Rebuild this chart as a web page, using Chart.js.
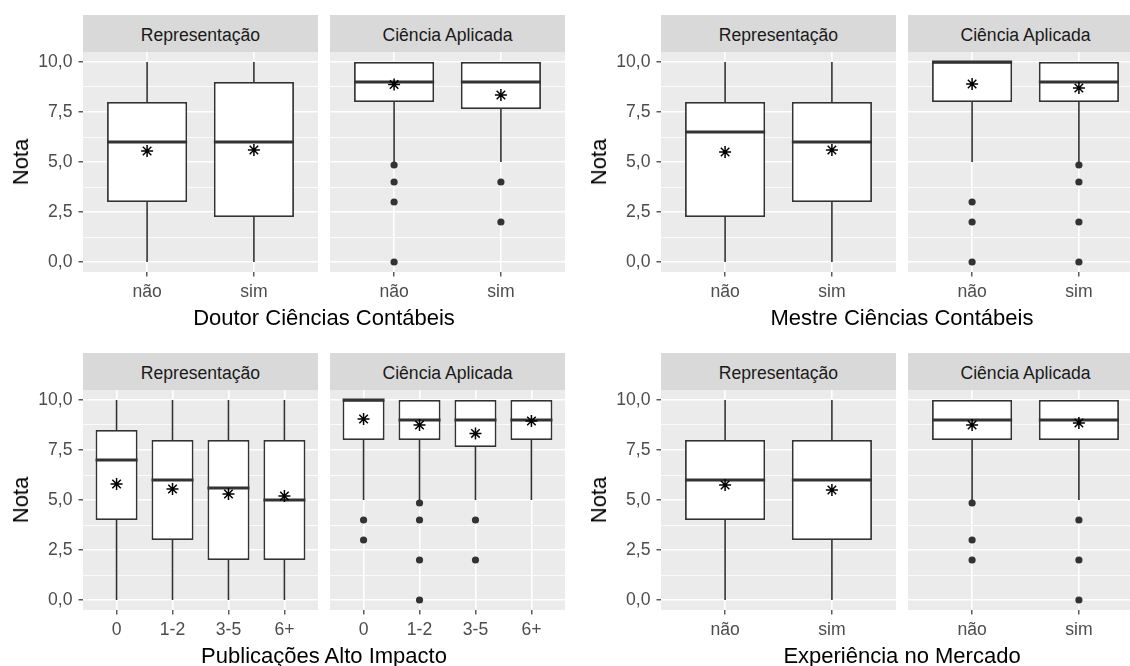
<!DOCTYPE html>
<html>
<head>
<meta charset="utf-8">
<script src="https://cdn.jsdelivr.net/npm/chart.js@4.4.1/dist/chart.umd.min.js"></script>
<style>
  body { margin: 0; background: #fff; width: 1130px; height: 666px; overflow: hidden; position: relative;
         font-family: "Liberation Sans", Arial, sans-serif; }
  canvas { position: absolute; }
  .strip { position: absolute; background: #d9d9d9; color: #1a1a1a; font-size: 17.6px; text-align: center;
           line-height: 41px; overflow: hidden; white-space: nowrap; }
  .ytitle, .xtitle { position: absolute; color: #000; font-size: 22px; line-height: 1; white-space: nowrap; }
  .ytitle { transform: translate(-50%, -50%) rotate(-90deg); }
  .xtitle { transform: translate(-50%, -50%); }
</style>
</head>
<body>
<script>
// categorias e rótulos
var facetNames = ["Representação", "Ciência Aplicada"];
var simNao = ["não", "sim"];
var pubCats = ["0", "1-2", "3-5", "6+"];
var yTicks = [0, 2.5, 5, 7.5, 10];

// cada linha: [mín, Q1, mediana, Q3, máx, média]
var doutorRep = [[0, 3, 6, 8, 10, 5.55], [0, 2.25, 6, 9, 10, 5.6]];
var doutorApl = [[5, 8, 9, 10, 10, 8.87], [5, 7.65, 9, 10, 10, 8.35]];
var doutorAplOut = [[4.85, 4, 3, 0], [4, 2]];

var mestreRep = [[0, 2.25, 6.5, 8, 10, 5.5], [0, 3, 6, 8, 10, 5.6]];
var mestreApl = [[5, 8, 10, 10, 10, 8.9], [5, 8, 9, 10, 10, 8.7]];
var mestreAplOut = [[3, 2, 0], [4.85, 4, 2, 0]];

var pubRep = [[0, 4, 7, 8.5, 10, 5.8], [0, 3, 6, 8, 10, 5.55], [0, 2, 5.6, 8, 10, 5.3], [0, 2, 5, 8, 10, 5.2]];
var pubApl = [[5, 8, 10, 10, 10, 9.05], [5, 8, 9, 10, 10, 8.75], [5, 7.65, 9, 10, 10, 8.33], [5, 8, 9, 10, 10, 8.95]];
var pubAplOut = [[4, 3], [4.85, 4, 2, 0], [4, 2], []];

var mercadoRep = [[0, 4, 6, 8, 10, 5.75], [0, 3, 6, 8, 10, 5.5]];
var mercadoApl = [[5, 8, 9, 10, 10, 8.75], [5, 8, 9, 10, 10, 8.85]];
var mercadoAplOut = [[4.85, 3, 2], [4, 2, 0]];

// layout
var PLOT_W = 235, PLOT_H = 220, AXIS_W = 83, AXIS_H = 44, GAP = 12, STRIP_H = 37;
var FONT = '"Liberation Sans", Arial, sans-serif';
Chart.defaults.font.family = FONT;

var panels = [
  { title: "Doutor Ciências Contábeis", cats: simNao, facets: [doutorRep, doutorApl], outs: [null, doutorAplOut], ox: 0, oy: 52 },
  { title: "Mestre Ciências Contábeis", cats: simNao, facets: [mestreRep, mestreApl], outs: [null, mestreAplOut], ox: 578, oy: 52 },
  { title: "Publicações Alto Impacto", cats: pubCats, facets: [pubRep, pubApl], outs: [null, pubAplOut], ox: 0, oy: 390 },
  { title: "Experiência no Mercado", cats: simNao, facets: [mercadoRep, mercadoApl], outs: [null, mercadoAplOut], ox: 578, oy: 390 },
];

// linhas de grade menores entre as maiores
var yMinor = yTicks.slice(1).map(function (v, i) { return (v + yTicks[i]) / 2; });
var yGrid = yTicks.concat(yMinor).sort(function (a, b) { return a - b; });

function fmt(v) { return v.toFixed(1).replace(".", ","); }

// fundo cinza do painel
var panelBg = {
  id: "panelBg",
  beforeDraw: function (chart) {
    var a = chart.chartArea, ctx = chart.ctx;
    ctx.save();
    ctx.fillStyle = "#ebebeb";
    ctx.fillRect(a.left, a.top, a.right - a.left, a.bottom - a.top);
    ctx.restore();
  }
};

function boxDatasets(stats, outs) {
  var half = 0.375;
  var whiskers = [], medians = [], boxes = [], points = [], means = [];
  stats.forEach(function (s, i) {
    var x = i + 1;
    whiskers.push({ x: x, y: s[0] }, { x: x, y: s[1] }, { x: x, y: null },
                  { x: x, y: s[3] }, { x: x, y: s[4] }, { x: x, y: null });
    medians.push({ x: x - half, y: s[2] }, { x: x + half, y: s[2] }, { x: x + half, y: null });
    boxes.push({ x: x, y: [s[1], s[3]] });
    means.push({ x: x, y: s[5] });
    (outs ? outs[i] : []).forEach(function (v) { points.push({ x: x, y: v }); });
  });
  return [
    { type: "scatter", data: means, pointStyle: "star", pointRadius: 6, pointBorderColor: "#000",
      pointBorderWidth: 1.5, pointBackgroundColor: "#000", order: 0 },
    { type: "scatter", data: points, pointStyle: "circle", pointRadius: 3.6, pointBackgroundColor: "#333",
      pointBorderWidth: 0, pointBorderColor: "#333", order: 1 },
    { type: "line", data: medians, borderColor: "#333", borderWidth: 3.2, pointRadius: 0, spanGaps: false,
      borderCapStyle: "butt", order: 2 },
    { type: "bar", data: boxes, backgroundColor: "#fff", borderColor: "#333", borderWidth: 1.8,
      borderSkipped: false, barPercentage: 0.75, categoryPercentage: 1, order: 3 },
    { type: "line", data: whiskers, borderColor: "#333", borderWidth: 1.6, pointRadius: 0, spanGaps: false, order: 4 },
  ];
}

function addDiv(cls, text, css) {
  var d = document.createElement("div");
  d.className = cls;
  d.textContent = text;
  Object.assign(d.style, css);
  document.body.appendChild(d);
}

panels.forEach(function (p) {
  var cats = p.cats;
  p.facets.forEach(function (stats, f) {
    var showY = f === 0;
    var plotLeft = p.ox + AXIS_W + f * (PLOT_W + GAP);
    var cv = document.createElement("canvas");
    cv.width = PLOT_W + (showY ? AXIS_W : 0);
    cv.height = PLOT_H + AXIS_H;
    cv.style.left = (plotLeft - (showY ? AXIS_W : 0)) + "px";
    cv.style.top = p.oy + "px";
    document.body.appendChild(cv);

    new Chart(cv, {
      type: "bar",
      data: { datasets: boxDatasets(stats, p.outs[f]) },
      plugins: [panelBg],
      options: {
        responsive: false,
        animation: false,
        events: [],
        layout: { padding: 0, autoPadding: false },
        plugins: { legend: { display: false }, tooltip: { enabled: false } },
        scales: {
          x: {
            type: "linear",
            min: 0.4,
            max: cats.length + 0.6,
            offset: false,
            afterBuildTicks: function (s) { s.ticks = cats.map(function (c, i) { return { value: i + 1 }; }); },
            afterFit: function (s) { s.height = AXIS_H; s.paddingLeft = 0; s.paddingRight = 0; },
            ticks: {
              callback: function (v) { return cats[v - 1]; },
              color: "#4d4d4d", font: { size: 17.6 }, padding: 5, maxRotation: 0, autoSkip: false
            },
            grid: { color: "#fff", lineWidth: 1.6, offset: false, drawTicks: true, tickLength: 4.5,
                    tickColor: "#333", tickWidth: 1.2 },
            border: { display: false }
          },
          y: {
            type: "linear",
            min: -0.5,
            max: 10.5,
            afterBuildTicks: function (s) { s.ticks = yGrid.map(function (v) { return { value: v }; }); },
            afterFit: function (s) { s.width = showY ? AXIS_W : 0; s.paddingTop = 0; s.paddingBottom = 0; },
            ticks: {
              display: showY,
              callback: function (v) { return yTicks.indexOf(v) >= 0 ? fmt(v) : ""; },
              color: "#4d4d4d", font: { size: 17.6 }, padding: 6, autoSkip: false
            },
            grid: {
              color: "#fff",
              lineWidth: function (ctx) { return yTicks.indexOf(ctx.tick.value) >= 0 ? 1.6 : 0.8; },
              drawTicks: showY,
              tickLength: 4.5,
              tickWidth: 1.2,
              tickColor: function (ctx) { return yTicks.indexOf(ctx.tick.value) >= 0 ? "#333" : "rgba(0,0,0,0)"; }
            },
            border: { display: false }
          }
        }
      }
    });

    addDiv("strip", facetNames[f], { left: plotLeft + "px", top: (p.oy - STRIP_H) + "px",
                                     width: PLOT_W + "px", height: STRIP_H + "px" });
  });
  addDiv("ytitle", "Nota", { left: (p.ox + 21) + "px", top: (p.oy + PLOT_H / 2) + "px" });
  addDiv("xtitle", p.title, { left: (p.ox + AXIS_W + PLOT_W + GAP / 2) + "px", top: (p.oy + 265.5) + "px" });
});
</script>
</body>
</html>
